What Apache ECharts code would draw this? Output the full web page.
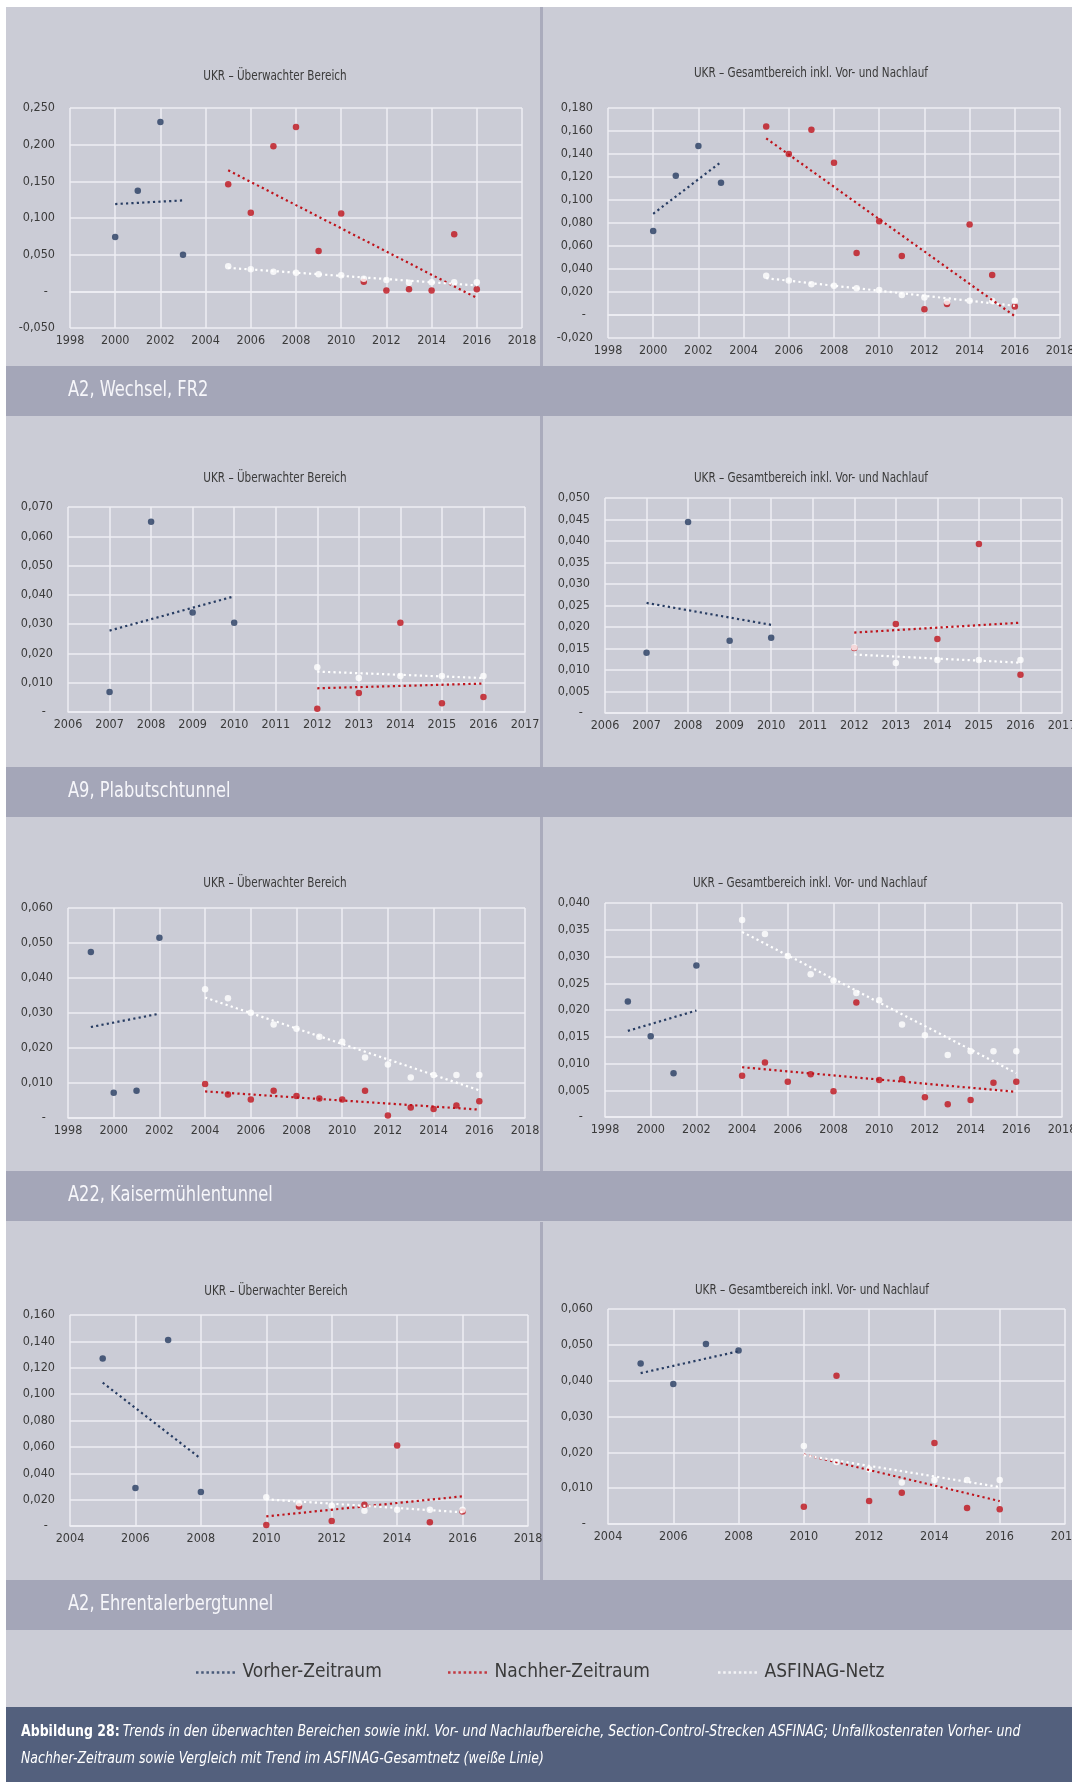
<!DOCTYPE html>
<html lang="de">
<head>
<meta charset="utf-8">
<title>Abbildung 28 – Section-Control-Strecken ASFINAG</title>
<script src="https://cdn.jsdelivr.net/npm/echarts@6.0.0/dist/echarts.min.js"></script>
<style>
  html, body { margin: 0; padding: 0; background: #fff; }
  #chart { width: 1072px; height: 1782px; }
</style>
</head>
<body>
<div id="chart"></div>
<script>
// Unfallkostenraten (UKR)

// A2, Wechsel, FR2
const yearsVorA2W = [2000, 2001, 2002, 2003];
const yearsNachA2W = [2005, 2006, 2007, 2008, 2009, 2010, 2011, 2012, 2013, 2014, 2015, 2016];
const vorUebA2W = [0.074, 0.137, 0.231, 0.050];
const nachUebA2W = [0.146, 0.107, 0.198, 0.224, 0.055, 0.106, 0.013, 0.001, 0.003, 0.001, 0.078, 0.003];
const trendVorUebA2W = [0.119, 0.124];
const trendNachUebA2W = [0.165, -0.009];
const trendNetzUebA2W = [0.032, 0.008];
const vorGesA2W = [0.073, 0.121, 0.147, 0.115];
const nachGesA2W = [0.164, 0.140, 0.161, 0.1325, 0.054, 0.0815, 0.0513, 0.005, 0.0096, 0.0788, 0.0348, 0.0075];
const trendVorGesA2W = [0.088, 0.133];
const trendNachGesA2W = [0.1536, -0.001];
const trendNetzGesA2W = [0.032, 0.008];

// A9, Plabutschtunnel
const yearsVorA9 = [2007, 2008, 2009, 2010];
const yearsNachA9 = [2012, 2013, 2014, 2015, 2016];
const vorUebA9 = [0.0068, 0.065, 0.034, 0.0305];
const nachUebA9 = [0.0011, 0.0065, 0.0305, 0.003, 0.0051];
const trendVorUebA9 = [0.0278, 0.0395];
const trendNachUebA9 = [0.0081, 0.0097];
const trendNetzUebA9 = [0.0138, 0.0116];
const vorGesA9 = [0.014, 0.0444, 0.0168, 0.0175];
const nachGesA9 = [0.0151, 0.0207, 0.0172, 0.0393, 0.0089];
const trendVorGesA9 = [0.0256, 0.0205];
const trendNachGesA9 = [0.0187, 0.021];
const trendNetzGesA9 = [0.0136, 0.0117];

// A22, Kaisermühlentunnel
const yearsVorA22 = [1999, 2000, 2001, 2002];
const yearsNachA22 = [2004, 2005, 2006, 2007, 2008, 2009, 2010, 2011, 2012, 2013, 2014, 2015, 2016];
const vorUebA22 = [0.0474, 0.0072, 0.0078, 0.0515];
const nachUebA22 = [0.0097, 0.0067, 0.0053, 0.0078, 0.0063, 0.0056, 0.0053, 0.0078, 0.0007, 0.003, 0.0026, 0.0036, 0.0048];
const trendVorUebA22 = [0.026, 0.0298];
const trendNachUebA22 = [0.0076, 0.0024];
const trendNetzUebA22 = [0.0344, 0.0079];
const vorGesA22 = [0.0216, 0.0151, 0.0082, 0.0283];
const nachGesA22 = [0.0077, 0.0102, 0.0066, 0.008, 0.0048, 0.0214, 0.0069, 0.0071, 0.0037, 0.0024, 0.0032, 0.0064, 0.0066];
const trendVorGesA22 = [0.0161, 0.0199];
const trendNachGesA22 = [0.0093, 0.0047];
const trendNetzGesA22 = [0.0346, 0.0082];

// A2, Ehrentalerbergtunnel
const yearsVorA2E = [2005, 2006, 2007, 2008];
const yearsNachA2E = [2010, 2011, 2012, 2013, 2014, 2015, 2016];
const vorUebA2E = [0.127, 0.0288, 0.141, 0.0258];
const nachUebA2E = [0.0008, 0.0147, 0.0038, 0.0162, 0.061, 0.0028, 0.011];
const trendVorUebA2E = [0.1087, 0.051];
const trendNachUebA2E = [0.0073, 0.0225];
const trendNetzUebA2E = [0.0202, 0.0104];
const vorGesA2E = [0.0448, 0.0391, 0.0502, 0.0484];
const nachGesA2E = [0.0048, 0.0414, 0.0064, 0.0087, 0.0226, 0.0045, 0.0041];
const trendVorGesA2E = [0.0421, 0.0482];
const trendNachGesA2E = [0.0194, 0.0064];
const trendNetzGesA2E = [0.0192, 0.0103];

// ASFINAG-Gesamtnetz
const netzYears = [2004, 2005, 2006, 2007, 2008, 2009, 2010, 2011, 2012, 2013, 2014, 2015, 2016];
const netzUkr = [0.0368, 0.0342, 0.0301, 0.0267, 0.0255, 0.0232, 0.0218, 0.0173, 0.0153, 0.0116, 0.0123, 0.0123, 0.0123];

const sectionNames = ['A2, Wechsel, FR2', 'A9, Plabutschtunnel', 'A22, Kaisermühlentunnel', 'A2, Ehrentalerbergtunnel'];
const legendNames = ['Vorher-Zeitraum', 'Nachher-Zeitraum', 'ASFINAG-Netz'];
const titleUeb = 'UKR – Überwachter Bereich';
const titleGes = 'UKR – Gesamtbereich inkl. Vor- und Nachlauf';

const FONT = '"Liberation Sans Narrow", "DejaVu Sans Condensed", sans-serif';
const NAVY = '#273c62';
const RED = '#bf131b';
const WHITE = '#ffffff';
const PANEL = '#cbccd6';
const BAND = '#a4a6b8';
const CAPTION = '#53607d';
const GRIDLINE = '#eeeef3';
const TEXT = '#3a3a3a';
const SQUEEZE = 0.86; // the original uses a condensed face

// one entry per small chart: plot box [left, top, width, height], title centre, axes
const panels = [
  { title: titleUeb, box: [70, 108, 452, 220], at: [275, 76], x: [1998, 2018, 2], y: [-0.05, 0.25, 0.05],
    vy: yearsVorA2W, vor: vorUebA2W, tv: trendVorUebA2W, ny: yearsNachA2W, nach: nachUebA2W, tn: trendNachUebA2W, tz: trendNetzUebA2W },
  { title: titleGes, box: [608, 108, 452, 230], at: [811, 73], x: [1998, 2018, 2], y: [-0.02, 0.18, 0.02],
    vy: yearsVorA2W, vor: vorGesA2W, tv: trendVorGesA2W, ny: yearsNachA2W, nach: nachGesA2W, tn: trendNachGesA2W, tz: trendNetzGesA2W },
  { title: titleUeb, box: [68, 507, 457, 205], at: [275, 478], x: [2006, 2017, 1], y: [0, 0.07, 0.01],
    vy: yearsVorA9, vor: vorUebA9, tv: trendVorUebA9, ny: yearsNachA9, nach: nachUebA9, tn: trendNachUebA9, tz: trendNetzUebA9 },
  { title: titleGes, box: [605, 498, 457, 215], at: [811, 478], x: [2006, 2017, 1], y: [0, 0.05, 0.005],
    vy: yearsVorA9, vor: vorGesA9, tv: trendVorGesA9, ny: yearsNachA9, nach: nachGesA9, tn: trendNachGesA9, tz: trendNetzGesA9 },
  { title: titleUeb, box: [68, 908, 457, 210], at: [275, 883], x: [1998, 2018, 2], y: [0, 0.06, 0.01],
    vy: yearsVorA22, vor: vorUebA22, tv: trendVorUebA22, ny: yearsNachA22, nach: nachUebA22, tn: trendNachUebA22, tz: trendNetzUebA22 },
  { title: titleGes, box: [605, 903, 457, 214], at: [810, 883], x: [1998, 2018, 2], y: [0, 0.04, 0.005],
    vy: yearsVorA22, vor: vorGesA22, tv: trendVorGesA22, ny: yearsNachA22, nach: nachGesA22, tn: trendNachGesA22, tz: trendNetzGesA22 },
  { title: titleUeb, box: [70, 1315, 458, 211], at: [276, 1291], x: [2004, 2018, 2], y: [0, 0.16, 0.02],
    vy: yearsVorA2E, vor: vorUebA2E, tv: trendVorUebA2E, ny: yearsNachA2E, nach: nachUebA2E, tn: trendNachUebA2E, tz: trendNetzUebA2E },
  { title: titleGes, box: [608, 1309, 457, 215], at: [812, 1290], x: [2004, 2018, 2], y: [0, 0.06, 0.01],
    vy: yearsVorA2E, vor: vorGesA2E, tv: trendVorGesA2E, ny: yearsNachA2E, nach: nachGesA2E, tn: trendNachGesA2E, tz: trendNetzGesA2E }
];

function yLabel(v) {
  if (Math.abs(v) < 1e-9) return '-  ';
  return v.toFixed(3).replace('.', ',');
}

function pairs(years, values) {
  return years.map(function (yr, k) { return [yr, values[k]]; });
}

function endpoints(years, t) {
  return [[years[0], t[0]], [years[years.length - 1], t[1]]];
}

function dotted(color) {
  return { color: color, width: 2.2, type: [2.2, 3.2], cap: 'butt' };
}

const grid = [], xAxis = [], yAxis = [], series = [];

panels.forEach(function (p, i) {
  grid.push({ left: p.box[0], top: p.box[1], width: p.box[2], height: p.box[3], containLabel: false, outerBoundsMode: 'none' });
  xAxis.push({
    type: 'value', gridIndex: i, min: p.x[0], max: p.x[1], interval: p.x[2],
    axisLine: { show: true, onZero: true, lineStyle: { color: GRIDLINE, width: 1.5 } },
    axisTick: { show: false },
    axisLabel: { color: TEXT, fontFamily: FONT, fontSize: 12.5, margin: 6, formatter: function (v) { return String(v); } },
    splitLine: { show: true, lineStyle: { color: GRIDLINE, width: 1.5 } }
  });
  yAxis.push({
    type: 'value', gridIndex: i, min: p.y[0], max: p.y[1], interval: p.y[2],
    axisLine: { show: false }, axisTick: { show: false },
    axisLabel: { color: TEXT, fontFamily: FONT, fontSize: 12.5, margin: 15, padding: [0, 0, 8, 0], formatter: yLabel },
    splitLine: { show: true, lineStyle: { color: GRIDLINE, width: 1.5 } }
  });

  const first = p.ny[0], last = p.ny[p.ny.length - 1];
  const nzYears = netzYears.filter(function (yr) { return yr >= first && yr <= last; });
  const nzVals = nzYears.map(function (yr) { return netzUkr[netzYears.indexOf(yr)]; });

  const common = { xAxisIndex: i, yAxisIndex: i, animation: false, silent: true };
  series.push(Object.assign({ type: 'scatter', name: legendNames[0], data: pairs(p.vy, p.vor), symbolSize: 6.5, itemStyle: { color: NAVY } }, common));
  series.push(Object.assign({ type: 'line', name: legendNames[0], data: endpoints(p.vy, p.tv), symbol: 'none', lineStyle: dotted(NAVY) }, common));
  series.push(Object.assign({ type: 'scatter', name: legendNames[1], data: pairs(p.ny, p.nach), symbolSize: 6.5, itemStyle: { color: RED } }, common));
  series.push(Object.assign({ type: 'line', name: legendNames[1], data: endpoints(p.ny, p.tn), symbol: 'none', lineStyle: dotted(RED) }, common));
  series.push(Object.assign({ type: 'scatter', name: legendNames[2], data: pairs(nzYears, nzVals), symbolSize: 6.5, itemStyle: { color: WHITE } }, common));
  series.push(Object.assign({ type: 'line', name: legendNames[2], data: endpoints(nzYears, p.tz), symbol: 'none', lineStyle: dotted(WHITE) }, common));
});

// dotted legend sample
let DOTS = 'path://';
for (let k = 0; k < 8; k++) DOTS += 'M' + (k * 5) + ' 0h2.4v2.4h-2.4z';

const legendLeft = [191, 443, 713];
const legend = legendNames.map(function (name, k) {
  return {
    data: [name], left: legendLeft[k], top: 1658, icon: DOTS, itemWidth: 40, itemHeight: 2.5,
    selectedMode: false,
    textStyle: { color: TEXT, fontFamily: FONT, fontSize: 19, padding: [0, 0, 0, 2] }
  };
});

function rect(x, y, w, h, fill) {
  return { type: 'rect', silent: true, shape: { x: x, y: y, width: w, height: h }, style: { fill: fill } };
}
function label(text, x, y, font, fill, align) {
  return { type: 'text', silent: true, x: x, y: y, scaleX: SQUEEZE,
    style: { text: text, font: font, fill: fill, textAlign: align, align: align, textVerticalAlign: 'middle', verticalAlign: 'middle' } };
}

const bandTops = [366, 767, 1171, 1580];
const rowTops = [7, 416, 817, 1222];
const graphic = [
  rect(0, 0, 1072, 7, '#ffffff'),
  rect(0, 0, 6, 1782, '#ffffff'),
  rect(6, 1707, 1066, 75, CAPTION)
];
bandTops.forEach(function (top, k) {
  graphic.push(rect(6, top, 1066, 50, BAND));
  graphic.push(rect(540, rowTops[k], 3, top - rowTops[k], '#aaabbc'));
  graphic.push(label(sectionNames[k], 68, top + 25, '21px ' + FONT, '#f6f6fa', 'left'));
});
panels.forEach(function (p) {
  graphic.push(label(p.title, p.at[0], p.at[1], '13.5px ' + FONT, TEXT, 'center'));
});
graphic.push({
  type: 'text', silent: true, x: 21, y: 1732, scaleX: SQUEEZE,
  style: {
    text: '{b|Abbildung 28:} {i|Trends in den überwachten Bereichen sowie inkl. Vor- und Nachlaufbereiche, Section-Control-Strecken ASFINAG; Unfallkostenraten Vorher- und}',
    verticalAlign: 'middle', textVerticalAlign: 'middle',
    rich: {
      b: { fontFamily: FONT, fontSize: 16.2, fontWeight: 'bold', fill: '#ffffff' },
      i: { fontFamily: FONT, fontSize: 16.2, fontStyle: 'italic', fill: '#ffffff' }
    }
  }
});
graphic.push(label('Nachher-Zeitraum sowie Vergleich mit Trend im ASFINAG-Gesamtnetz (weiße Linie)', 21, 1759,
  'italic 16.2px ' + FONT, '#ffffff', 'left'));

const chart = echarts.init(document.getElementById('chart'), null, { renderer: 'canvas' });
chart.setOption({
  backgroundColor: PANEL,
  animation: false,
  textStyle: { fontFamily: FONT },
  grid: grid,
  xAxis: xAxis,
  yAxis: yAxis,
  legend: legend,
  graphic: graphic,
  series: series
});

window.addEventListener('resize', function () { chart.resize(); });
</script>
</body>
</html>
